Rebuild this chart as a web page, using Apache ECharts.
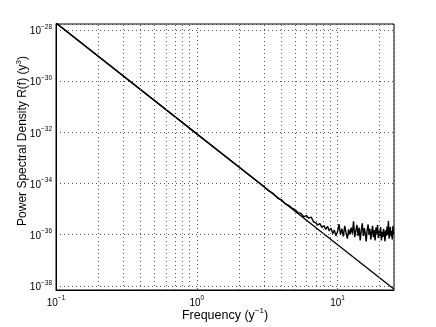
<!DOCTYPE html>
<html><head><meta charset="utf-8">
<script src="https://cdn.jsdelivr.net/npm/echarts@6/dist/echarts.min.js"></script>
<style>html,body{margin:0;padding:0;background:#fff}#c{width:436px;height:327px}</style>
</head><body><div id="c"></div>
<script>
// Fitted straight power-law line (endpoints)
const lineFreqs = [0.1, 25];
const lineValues = [1.86e-28, 7.8e-39];

// Measured spectrum (frequency in y^-1, PSD in y^3)
const noisyFreqs = [0.1, 1, 3.00, 3.25, 3.50, 3.75, 4.00, 4.25, 4.50, 4.75, 5.00, 5.25, 5.50, 5.75,
  6.00, 6.25, 6.50, 6.75, 7.00, 7.25, 7.50, 7.75, 8.00, 8.25, 8.50, 8.75, 9.00, 9.25, 9.50, 9.75,
  10.0, 10.25, 10.5, 10.75, 11.0, 11.25, 11.5, 11.75, 12.0, 12.25, 12.5, 12.75, 13.0, 13.25, 13.5, 13.75,
  14.0, 14.25, 14.5, 14.75, 15.0, 15.25, 15.5, 15.75, 16.0, 16.25, 16.5, 16.75, 17.0, 17.25, 17.5, 17.75,
  18.0, 18.25, 18.5, 18.75, 19.0, 19.25, 19.5, 19.75, 20.0, 20.25, 20.5, 20.75, 21.0, 21.25, 21.5, 21.75,
  22.0, 22.25, 22.5, 22.75, 23.0, 23.25, 23.5, 23.75, 24.0, 24.25, 24.5, 24.75, 25.0];
const noisyValues = [1.86e-28, 8.7e-33, 7.6e-35, 5.1e-35, 4.0e-35, 2.7e-35, 2.3e-35, 1.6e-35, 1.4e-35, 1.1e-35, 9.5e-36, 7.2e-36, 6.8e-36, 5.0e-36,
  5.6e-36, 4.4e-36, 4.9e-36, 3.2e-36, 2.9e-36, 2.4e-36, 2.7e-36, 1.9e-36, 2.3e-36, 1.6e-36, 2.1e-36, 1.4e-36, 1.8e-36, 1.1e-36, 1.5e-36, 9.0e-37,
  1.3e-36, 2.6e-36, 1.0e-36, 1.7e-36, 8.5e-37, 2.2e-36, 1.2e-36, 7.0e-37, 1.6e-36, 1.0e-36, 1.9e-36, 1.1e-36, 3.3e-36, 8.0e-37, 1.4e-36, 2.4e-36,
  9.0e-37, 1.9e-36, 6.0e-37, 1.5e-36, 2.8e-36, 9.0e-37, 1.8e-36, 1.1e-36, 5.5e-37, 1.6e-36, 2.5e-36, 1.0e-36, 1.7e-36, 6.5e-37, 1.3e-36, 2.2e-36,
  8.0e-37, 1.5e-36, 6.0e-37, 1.9e-36, 1.1e-36, 2.4e-36, 7.5e-37, 1.4e-36, 9.0e-37, 2.0e-36, 6.0e-37, 1.3e-36, 8.0e-37, 1.7e-36, 1.1e-36, 5.5e-37,
  1.5e-36, 9.0e-37, 2.1e-36, 1.0e-36, 3.4e-36, 7.0e-37, 1.6e-36, 2.0e-36, 8.5e-37, 1.4e-36, 6.5e-37, 2.2e-36, 1.0e-36];

// Axis extents and tick labels (decade exponents)
const xRange = [0.1, 25.2];
const yRange = [6.9e-39, 1.7e-28];
const xTickExps = [-1, 0, 1];
const yTickExps = [-38, -36, -34, -32, -30, -28];
const minorGridFreqs = [0.2, 0.3, 0.4, 0.5, 0.6, 0.7, 0.8, 0.9, 2, 3, 4, 5, 6, 7, 8, 9, 20];

const L = Math.log10;
const FONT = '"Liberation Sans", Arial, Helvetica, sans-serif';
const richLab = {
  b: {fontFamily: FONT, fontSize: 10, color: '#000', lineHeight: 13, verticalAlign: 'bottom'},
  s: {fontFamily: FONT, fontSize: 6.5, color: '#000', lineHeight: 13, verticalAlign: 'top'}
};
function decadeLabel(list) {
  return function (v) {
    const r = Math.round(v);
    if (Math.abs(v - r) > 1e-6 || list.indexOf(r) < 0) return '';
    return '{b|10}{s|' + String(r).replace('-', '\u2212') + '}';
  };
}
const gridStyle = {type: [1, 3], color: '#555', width: 1};

const chart = echarts.init(document.getElementById('c'), null, {renderer: 'canvas'});
chart.setOption({
  animation: false,
  backgroundColor: '#fff',
  grid: {left: 56, right: 42, top: 24, bottom: 37, show: true, borderColor: '#000', borderWidth: 1,
         containLabel: false, outerBoundsMode: 'none'},
  xAxis: {
    type: 'value', min: L(xRange[0]), max: L(xRange[1]), interval: 1,
    axisLine: {show: true, onZero: false, lineStyle: {color: '#000', width: 1}},
    axisTick: {show: false},
    axisLabel: {formatter: decadeLabel(xTickExps), rich: richLab, margin: 5, showMaxLabel: false},
    splitLine: {show: true, lineStyle: gridStyle},
    name: '{n|Frequency (y}{s|\u22121}{n|)}',
    nameLocation: 'middle', nameGap: 17, nameMoveOverlap: false,
    nameTextStyle: {rich: {
      n: {fontFamily: FONT, fontSize: 12.5, color: '#000', lineHeight: 15, verticalAlign: 'bottom'},
      s: {fontFamily: FONT, fontSize: 8, color: '#000', lineHeight: 15, verticalAlign: 'top'}
    }}
  },
  yAxis: {
    type: 'value', min: L(yRange[0]), max: L(yRange[1]), minInterval: 2, maxInterval: 2,
    axisLine: {show: true, onZero: false, lineStyle: {color: '#000', width: 1}},
    axisTick: {show: false},
    axisLabel: {formatter: decadeLabel(yTickExps), rich: richLab, margin: 4, showMinLabel: true, showMaxLabel: true},
    splitLine: {show: true, lineStyle: gridStyle}
  },
  graphic: [{
    type: 'text', x: 22, y: 141, rotation: Math.PI / 2, silent: true,
    style: {
      text: '{n|Power Spectral Density R(f) (y}{s|3}{n|)}',
      align: 'center', verticalAlign: 'middle',
      rich: {
        n: {fontFamily: FONT, fontSize: 12, fill: '#000', lineHeight: 14, verticalAlign: 'bottom'},
        s: {fontFamily: FONT, fontSize: 8, fill: '#000', lineHeight: 14, verticalAlign: 'top'}
      }
    }
  }],
  series: [
    {
      type: 'line', name: 'fit', showSymbol: false, symbol: 'none', silent: true, clip: true,
      lineStyle: {color: '#000', width: 1.3},
      data: lineFreqs.map((f, i) => [L(f), L(lineValues[i])]),
      markLine: {
        silent: true, symbol: ['none', 'none'], label: {show: false},
        lineStyle: gridStyle, animation: false,
        data: minorGridFreqs.map(f => ({xAxis: L(f)}))
      },
      z: 3
    },
    {
      type: 'line', name: 'spectrum', showSymbol: false, symbol: 'none', silent: true, clip: true,
      lineStyle: {color: '#000', width: 1.4},
      data: noisyFreqs.map((f, i) => [L(f), L(noisyValues[i])]),
      z: 4
    }
  ]
});
</script></body></html>
